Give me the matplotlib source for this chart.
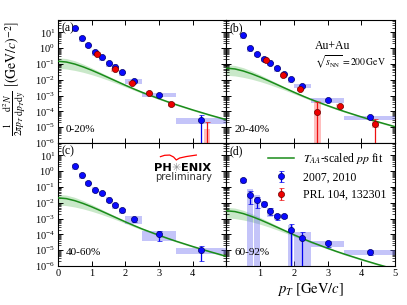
import numpy as np
import matplotlib
matplotlib.use('Agg')
import matplotlib.pyplot as plt
from matplotlib.ticker import LogLocator, NullFormatter

plt.rcParams['font.family'] = 'serif'
plt.rcParams['font.serif'] = ['Liberation Serif', 'DejaVu Serif']
plt.rcParams['mathtext.fontset'] = 'stix'

# ---------------------------
# data
blue_pt = [0.5, 0.7, 0.9, 1.1, 1.3, 1.5, 1.7, 1.9, 2.25, 3.0, 4.25]
blue_edges = [0.4, 0.6, 0.8, 1.0, 1.2, 1.4, 1.6, 1.8, 2.0, 2.5, 3.5, 5.0]
red_pt = [1.17, 1.68, 2.19, 2.7, 3.36, 4.42]

# 0-20%
blue_0020 = [18, 4.2, 1.6, 0.56, 0.26, 0.11, 0.068, 0.03, 0.008, 0.0011, 2.8e-5]
blue_0020_err = [0.5, 0.12, 0.05, 0.02, 0.01, 0.005, 0.004, 0.002, 0.0008, 0.00012, 3.3e-5]
blue_0020_sys = [0.4, 0.4, 0.4, 0.4, 0.4, 0.4, 0.4, 0.4, 0.3, 0.3, 0.45]
red_0020 = [0.45, 0.045, 0.0064, 0.00145, 2.9e-4, 4e-7]
red_0020_err = [0.02, 0.003, 0.0005, 0.0001, 4e-5, 2.2e-5]
red_0020_sys = [0.3, 0.3, 0.3, 0.3, 0.3, 17]

# 20-40%
blue_2040 = [6.7, 1.0, 0.43, 0.21, 0.12, 0.052, 0.023, 0.011, 0.0042, 5.2e-4, 4.2e-5]
blue_2040_err = [0.2, 0.04, 0.015, 0.008, 0.005, 0.002, 0.001, 0.0006, 0.0003, 4e-5, 8e-6]
blue_2040_sys = [0.4, 0.4, 0.4, 0.4, 0.4, 0.4, 0.4, 0.4, 0.3, 0.3, 0.3]
red_2040 = [0.18, 0.021, 0.0027, 9.8e-5, 2.1e-4, 1.7e-5]
red_2040_err = [0.008, 0.001, 0.0002, 2.7e-4, 2.5e-5, 1.8e-5]
red_2040_sys = [0.3, 0.3, 0.3, 3.8, 0.3, 0.5]

# 40-60%
blue_4060 = [2.1, 0.55, 0.18, 0.068, 0.042, 0.016, 0.007, 0.0034, 9e-4, 1.0e-4, 1.0e-5]
blue_4060_err = [0.08, 0.02, 0.01, 0.005, 0.003, 0.0015, 0.0015, 0.0008, 0.00025, 6e-5, 8e-6]
blue_4060_sys = [0.4, 0.4, 0.4, 0.4, 0.4, 0.4, 0.4, 0.4, 0.5, 0.6, 0.4]

# 60-92%
blue_6092 = [0.26, 0.033, 0.0145, 0.0089, 0.0031, 0.0014, 0.0014, 2.0e-4, 6.2e-5, 2.7e-5, 7.9e-6]
blue_6092_err = [0.06, 0.025, 0.01, 0.002, 0.0015, 0.0006, 0.0003, 2.3e-4, 7.3e-5, 1.1e-5, 3e-6]
blue_6092_sys = [0.45, 1.2, 1.05, 0.45, 0.6, 0.45, 0.3, 1.0, 1.2, 0.4, 0.35]

# T_AA-scaled pp fit: shape (log10, relative to pT=0) and band widths (dex)
fit_pt = [0, 0.25, 0.5, 0.75, 1.0, 1.25, 1.5, 1.75, 2.0, 2.25, 2.5,
          2.75, 3.0, 3.25, 3.5, 3.75, 4.0, 4.25, 4.5, 4.75, 5.0]
fit_shape = [0, -0.05, -0.18, -0.36, -0.57, -0.80, -1.04, -1.28, -1.52, -1.75, -1.97,
             -2.17, -2.37, -2.56, -2.74, -2.91, -3.08, -3.24, -3.40, -3.55, -3.70]
fit_up = [0.22, 0.22, 0.21, 0.18, 0.15, 0.12, 0.10, 0.08, 0.07, 0.06, 0.05,
          0.05, 0.04, 0.04, 0.04, 0.04, 0.04, 0.04, 0.04, 0.04, 0.04]
fit_dn = [0.45, 0.44, 0.40, 0.34, 0.28, 0.22, 0.17, 0.13, 0.10, 0.08, 0.07,
          0.06, 0.05, 0.05, 0.05, 0.05, 0.05, 0.05, 0.05, 0.05, 0.05]
fit_norm = [0.148, 0.054, 0.0204, 0.0031]

centralidades = ['0-20%', '20-40%', '40-60%', '60-92%']
letras = ['(a)', '(b)', '(c)', '(d)']

verde = (0.1, 0.55, 0.1)
caja_azul = (0.45, 0.45, 0.95)
caja_roja = (1.0, 0.4, 0.4)


def cajas(ax, x0s, x1s, ys, fs, color):
    for x0, x1, y, f in zip(x0s, x1s, ys, fs):
        lo = max(y * (1 - f), 1e-9)
        hi = y * (1 + f)
        ax.fill_between([x0, x1], [lo, lo], [hi, hi], color=color, alpha=0.42, lw=0, zorder=2)


def panel(ax, k, by, be, bs, ry=None, re=None, rs=None):
    shape = np.array(fit_shape)
    ax.fill_between(fit_pt, fit_norm[k] * 10 ** (shape + np.array(fit_up)),
                    fit_norm[k] * 10 ** (shape - np.array(fit_dn)),
                    color=(0.3, 0.7, 0.3), alpha=0.3, lw=0, zorder=1)
    linea, = ax.plot(fit_pt, fit_norm[k] * 10 ** shape, color=verde, lw=1.1, zorder=3)

    x0s, x1s = [], []
    for a, b in zip(blue_edges[:-1], blue_edges[1:]):
        if b - a < 0.3:
            a, b = a + 0.012, b - 0.012
        x0s.append(a)
        x1s.append(b)
    cajas(ax, x0s, x1s, by, bs, caja_azul)
    eb_b = ax.errorbar(blue_pt, by, yerr=be, fmt='o', ms=4.4, mfc='#0a0aff', mec='#00006a',
                       mew=0.5, color='#0000ee', elinewidth=0.9, capsize=1.8, capthick=0.9, zorder=5)
    eb_r = None
    if ry is not None:
        cajas(ax, [p - 0.1 for p in red_pt], [p + 0.1 for p in red_pt], ry, rs, caja_roja)
        eb_r = ax.errorbar(red_pt, ry, yerr=re, fmt='o', ms=4.4, mfc='#ee0000', mec='#6a0000',
                           mew=0.5, color='#ee1010', elinewidth=0.9, capsize=1.8, capthick=0.9, zorder=6)

    ax.text(0.02, 0.985, letras[k], transform=ax.transAxes, ha='left', va='top', fontsize=8.5)
    ax.text(0.045, 0.11, centralidades[k], transform=ax.transAxes, ha='left', va='center', fontsize=8)
    return linea, eb_b, eb_r


fig, axs = plt.subplots(2, 2, figsize=(4.07, 3.05), dpi=100, sharey=True)
fig.subplots_adjust(left=0.1425, right=0.9705, top=0.9344, bottom=0.1279, wspace=0, hspace=0)

linea, eb_b, eb_r = panel(axs[0, 0], 0, blue_0020, blue_0020_err, blue_0020_sys,
                          red_0020, red_0020_err, red_0020_sys)
panel(axs[0, 1], 1, blue_2040, blue_2040_err, blue_2040_sys, red_2040, red_2040_err, red_2040_sys)
panel(axs[1, 0], 2, blue_4060, blue_4060_err, blue_4060_sys)
panel(axs[1, 1], 3, blue_6092, blue_6092_err, blue_6092_sys)

for i in range(2):
    for j in range(2):
        ax = axs[i, j]
        ax.set_yscale('log')
        ax.set_xlim(0, 5)
        ax.set_ylim(1e-6, 60)
        ax.set_yticks([1e-6, 1e-5, 1e-4, 1e-3, 1e-2, 1e-1, 1e0, 1e1])
        ax.yaxis.set_minor_locator(LogLocator(base=10, subs=np.arange(2, 10) * 1.0, numticks=50))
        ax.yaxis.set_minor_formatter(NullFormatter())
        ax.set_xticks([0, 1, 2, 3, 4, 5])
        if j == 0:
            ax.set_xticklabels(['0', '1', '2', '3', '4', ''])
        else:
            ax.set_xticklabels(['', '1', '2', '3', '4', '5'])
        ax.tick_params(which='both', direction='in', top=True, right=True, labelsize=7.5, pad=2)
        ax.tick_params(which='major', length=3.5, width=0.7)
        ax.tick_params(which='minor', length=2, width=0.5)
        if i == 0:
            ax.tick_params(labelbottom=False)
        if j == 1:
            ax.tick_params(labelleft=False)

# textos
axs[0, 1].text(0.524, 0.785, 'Au+Au', transform=axs[0, 1].transAxes, fontsize=8.5, va='center')
axs[0, 1].text(0.524, 0.665, r'$\sqrt{s_{\mathrm{NN}}} = 200\,\mathrm{GeV}$',
               transform=axs[0, 1].transAxes, fontsize=7, va='center')

axc = axs[1, 0]
axc.text(0.675, 0.797, 'PH', transform=axc.transAxes, ha='right', va='center',
         fontsize=8.2, fontweight='bold', family='DejaVu Sans')
axc.text(0.703, 0.797, '\u2733', transform=axc.transAxes, ha='center', va='center',
         fontsize=8, color='0.55', family='DejaVu Sans')
axc.text(0.731, 0.797, 'ENIX', transform=axc.transAxes, ha='left', va='center',
         fontsize=8.2, fontweight='bold', family='DejaVu Sans')
axc.text(0.746, 0.72, 'preliminary', transform=axc.transAxes, ha='center', va='center',
         fontsize=7.2, family='DejaVu Sans', color='0.2')
axc.plot([0.608, 0.633, 0.663, 0.686, 0.702, 0.722, 0.762, 0.821],
         [0.889, 0.900, 0.902, 0.886, 0.862, 0.878, 0.890, 0.902],
         color='red', lw=0.9, transform=axc.transAxes)

axs[1, 1].legend([linea, eb_b, eb_r],
                 [r'$T_{AA}$-scaled $pp$ fit', '2007, 2010', 'PRL 104, 132301'],
                 loc='upper right', frameon=False, fontsize=8.5, handlelength=2.2,
                 labelspacing=0.45, borderaxespad=0.3, handletextpad=0.8)

axs[1, 1].set_xlabel(r'$p_T\ [\mathrm{GeV}/c]$', fontsize=10.5, labelpad=2)
fig.text(0.037, 1 - 78 / 305,
         r'$\frac{1}{2\pi p_T}\frac{\mathrm{d}^2N}{\mathrm{d}p_T\mathrm{d}y}\ \left[(\mathrm{GeV}/c)^{-2}\right]$',
         rotation=90, ha='center', va='center', fontsize=10)

plt.savefig('out.png', dpi=100)
